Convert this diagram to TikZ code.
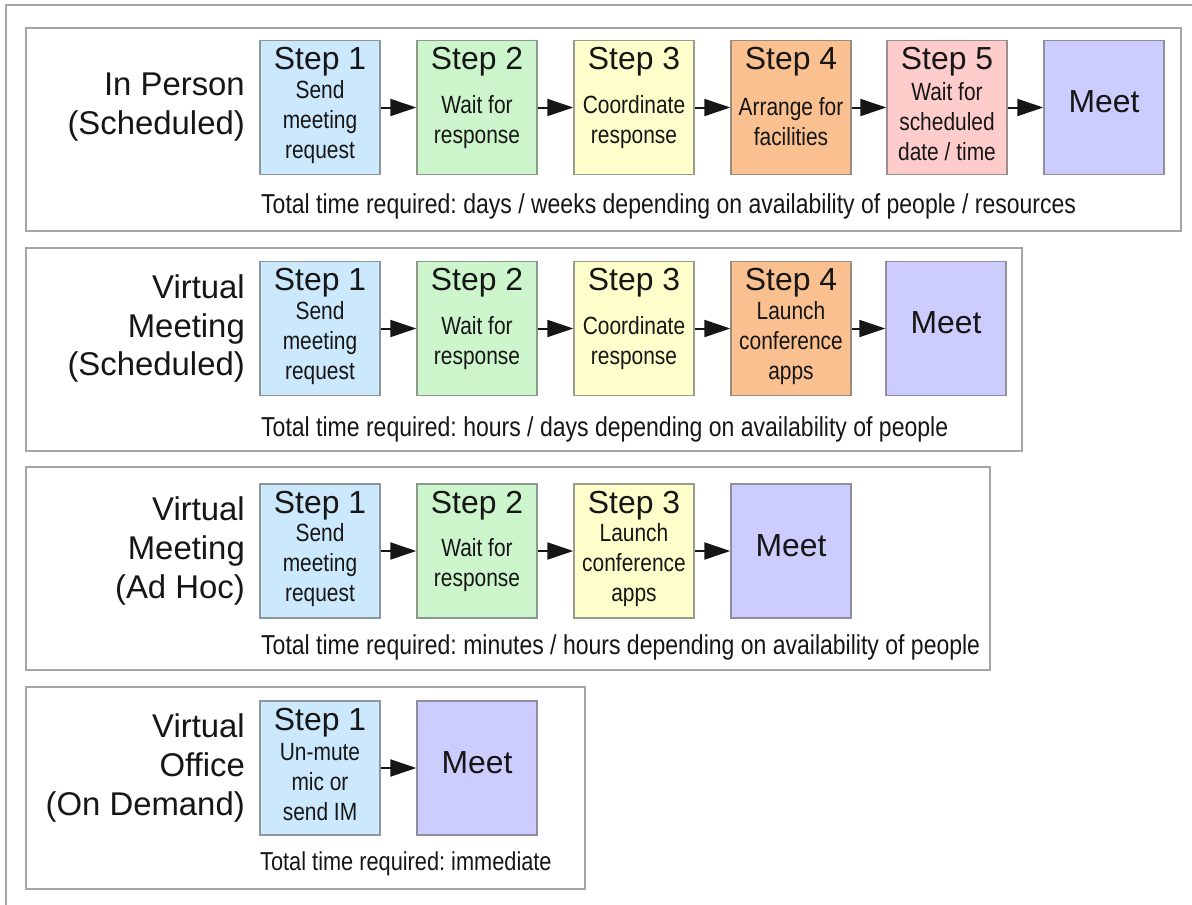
\documentclass[tikz,border=0pt]{standalone}
\usepackage{fontspec}
\setmainfont{Liberation Sans}
\newfontfamily\nar[FakeStretch=0.84]{Liberation Sans}
\usetikzlibrary{arrows.meta}
\frenchspacing
\definecolor{cA}{RGB}{204,232,252}
\definecolor{cB}{RGB}{204,245,204}
\definecolor{cC}{RGB}{255,255,204}
\definecolor{cD}{RGB}{250,192,144}
\definecolor{cE}{RGB}{255,204,204}
\definecolor{cM}{RGB}{204,204,255}
\definecolor{ink}{RGB}{22,22,22}
\definecolor{frame}{RGB}{165,165,165}
\newcommand\mkstep[6]{%
  \node[stepbox=#4] (#1) at (#2,#3) {};
  \node[titletext] (#1t) at ([yshift=-30bp]#1.north) {#5};
  \node[bodytext] (#1b) at ([yshift=-82bp]#1.north) {#6};
}
\newcommand\mkmeet[3]{%
  \node[stepbox=cM] (#1) at (#2,#3) {};
  \node[meettext] (#1t) at ([yshift=-62bp]#1.north) {Meet};
}
\begin{document}
\begin{tikzpicture}[x=1bp,y=-1bp,
  stepbox/.style={draw=#1!40!black!65, fill=#1, line width=1.4bp, minimum width=120bp, minimum height=134bp, inner sep=0pt},
  titletext/.style={font=\fontsize{32}{38}\selectfont, inner sep=0pt, anchor=base, text=ink},
  meettext/.style={font=\fontsize{32}{38}\selectfont, inner sep=0pt, anchor=center, text=ink},
  bodytext/.style={font=\nar\fontsize{25}{30}\selectfont, align=center, inner sep=0pt, text=ink},
  lab/.style={font=\fontsize{33}{39}\selectfont, align=right, inner sep=0pt, anchor=east, text=ink},
  total/.style={font=\nar\fontsize{27.5}{34}\selectfont, inner sep=0pt, anchor=base west, text=ink},
  arr/.style={line width=2bp, draw=ink, -{Triangle[length=26bp,width=17bp]}},
  panel/.style={draw=frame, line width=1.5bp},
  outer/.style={draw=frame, line width=2.5bp}
]
\fill[white] (0,0) rectangle (1192,905);
\useasboundingbox (0,0) rectangle (1192,905);
\draw[outer] (1192,5) -- (6,5) -- (6,905);

% ---------- Panel 1
\draw[panel] (26,28) rectangle (1181,231);
\node[lab] (l1) at (245,107.5) {In Person\\(Scheduled)};
\mkstep{a1}{320}{107.5}{cA}{Step 1}{Send\\meeting\\request}
\mkstep{a2}{477}{107.5}{cB}{Step 2}{Wait for\\response}
\mkstep{a3}{634}{107.5}{cC}{Step 3}{Coordinate\\response}
\mkstep{a4}{791}{107.5}{cD}{Step 4}{Arrange for\\facilities}
\mkstep{a5}{947}{107.5}{cE}{Step 5}{Wait for\\scheduled\\date / time}
\mkmeet{a6}{1104}{107.5}
\foreach \i/\j in {a1/a2,a2/a3,a3/a4,a4/a5,a5/a6} \draw[arr] (\i.east) -- (\j.west);
\node[total] (t1) at (261,213) {Total time required: days / weeks depending on availability of people / resources};

% ---------- Panel 2
\draw[panel] (26,248) rectangle (1022,451);
\node[lab] (l2) at (245,328.5) {Virtual\\Meeting\\(Scheduled)};
\mkstep{b1}{320}{328.5}{cA}{Step 1}{Send\\meeting\\request}
\mkstep{b2}{477}{328.5}{cB}{Step 2}{Wait for\\response}
\mkstep{b3}{634}{328.5}{cC}{Step 3}{Coordinate\\response}
\mkstep{b4}{791}{328.5}{cD}{Step 4}{Launch\\conference\\apps}
\mkmeet{b5}{946}{328.5}
\foreach \i/\j in {b1/b2,b2/b3,b3/b4,b4/b5} \draw[arr] (\i.east) -- (\j.west);
\node[total] (t2) at (261,436) {Total time required: hours / days depending on availability of people};

% ---------- Panel 3
\draw[panel] (26,467) rectangle (990,670);
\node[lab] (l3) at (245,551) {Virtual\\Meeting\\(Ad Hoc)};
\mkstep{c1}{320}{551}{cA}{Step 1}{Send\\meeting\\request}
\mkstep{c2}{477}{551}{cB}{Step 2}{Wait for\\response}
\mkstep{c3}{634}{551}{cC}{Step 3}{Launch\\conference\\apps}
\mkmeet{c4}{791}{551}
\foreach \i/\j in {c1/c2,c2/c3,c3/c4} \draw[arr] (\i.east) -- (\j.west);
\node[total] (t3) at (261,654) {Total time required: minutes / hours depending on availability of people};

% ---------- Panel 4
\draw[panel] (26,687) rectangle (585,889);
\node[lab] (l4) at (245,768) {Virtual\\Office\\(On Demand)};
\mkstep{d1}{320}{768}{cA}{Step 1}{Un-mute\\mic or\\send IM}
\mkmeet{d2}{477}{768}
\draw[arr] (d1.east) -- (d2.west);
\node[total, font=\nar\fontsize{26}{32}\selectfont] (t4) at (260,870) {Total time required: immediate};
\end{tikzpicture}
\end{document}
